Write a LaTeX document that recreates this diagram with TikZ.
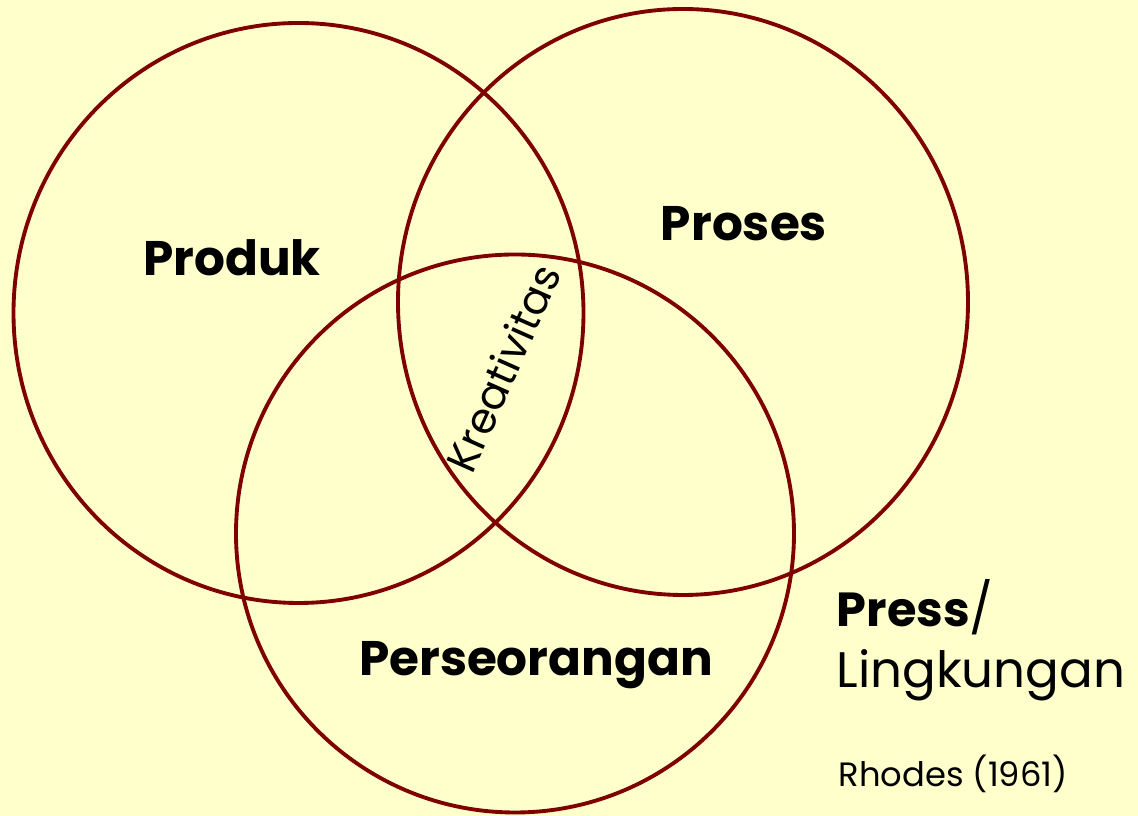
\documentclass[tikz,border=0pt]{standalone}
\usepackage{fontspec}
\setmainfont{Poppins}
\usepackage{xcolor}
\definecolor{bgyellow}{HTML}{FFFFCC}
\definecolor{ringred}{HTML}{7F0000}

\tikzset{
    ring/.style={draw=ringred, line width=1.1pt},
    biglabel/.style={font=\bfseries\fontsize{13.8}{16}\selectfont, inner sep=0pt},
    sidelabel/.style={font=\fontsize{14.2}{17}\selectfont, inner sep=0pt, anchor=base west},
}

\begin{document}
\begin{tikzpicture}[x=0.01cm, y=-0.01cm]
    % Background
    \fill[bgyellow] (0,0) rectangle (1138,816);
    \useasboundingbox (0,0) rectangle (1138,816);

    % Circles
    \coordinate (cprod) at (298.5,313);
    \coordinate (cpros) at (683,302);
    \coordinate (cpers) at (515,533.5);
    \draw[ring] (cprod) ellipse [x radius=285, y radius=290];
    \draw[ring] (cpros) ellipse [x radius=285, y radius=293];
    \draw[ring] (cpers) ellipse [x radius=279, y radius=279];

    % Labels
    \node (produk) [biglabel] at (232,258) {Produk};
    \node (proses) [biglabel] at (744,224) {Proses};
    \node (perseo) [biglabel] at (536,665) {Perseorangan};
    \node (kreat) [font=\fontsize{12}{14}\selectfont, inner sep=0pt, rotate=66] at (503,368) {Kreativitas};

    % Press / Lingkungan
    \node (press) [sidelabel] at (836,627) {{\bfseries\fontsize{13.6}{17}\selectfont Press}/};
    \node (lingk) [sidelabel] at (836,688) {Lingkungan};
    \node (rhodes) [sidelabel, font=\fontsize{9.6}{11}\selectfont] at (838,787) {Rhodes (1961)};
\end{tikzpicture}
\end{document}
